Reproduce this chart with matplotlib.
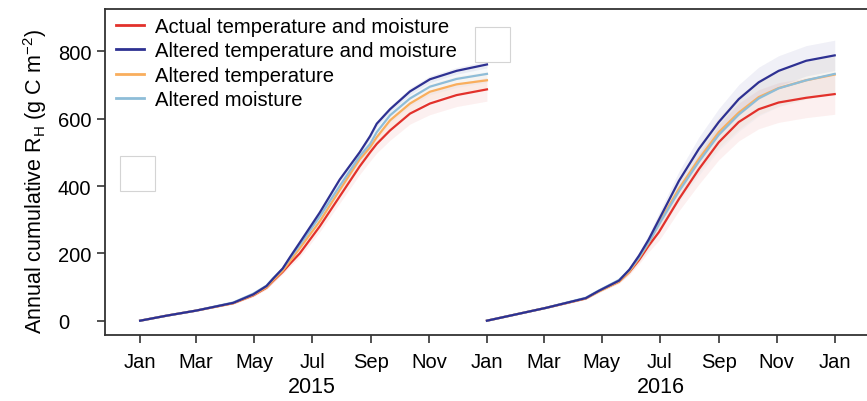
import matplotlib
matplotlib.use("Agg")
import matplotlib.pyplot as plt
from matplotlib.patches import Rectangle
import numpy as np

plt.rcParams['font.family'] = ['Liberation Sans', 'DejaVu Sans']

# days since 1 Jan of each year
days_2015 = [0, 28, 59, 98, 119, 133, 140, 150, 158, 168, 189, 210, 231, 242, 249, 263, 284, 305, 333, 365]
actual_2015 = [0, 15, 30, 52, 75, 98, 118, 145, 170, 200, 280, 369, 458, 500, 525, 565, 615, 645, 670, 687]
alt_tm_2015 = [0, 15, 30, 53, 78, 103, 125, 155, 190, 232, 321, 419, 500, 548, 585, 628, 681, 717, 742, 761]
alt_t_2015 = [0, 15, 30, 52, 76, 99, 120, 148, 178, 215, 295, 388, 479, 515, 545, 595, 645, 680, 702, 714]
alt_m_2015 = [0, 15, 30, 54, 80, 104, 126, 154, 187, 225, 309, 400, 488, 525, 560, 610, 660, 695, 718, 733]
# band half widths
sd_actual_2015 = [0, 1, 2, 3, 4, 5, 6, 7, 9, 12, 16, 20, 24, 26, 27, 29, 31, 33, 34, 35]
sd_tm_2015 = [0, 1, 1, 2, 2, 3, 3, 4, 4, 5, 6, 7, 8, 8, 9, 9, 10, 10, 10, 10]
sd_t_2015 = [0, 1, 2, 3, 4, 5, 6, 7, 8, 10, 13, 16, 19, 20, 21, 22, 23, 24, 25, 25]
sd_m_2015 = [0, 1, 2, 3, 4, 5, 6, 7, 8, 10, 13, 16, 19, 20, 21, 22, 23, 24, 25, 25]

days_2016 = [0, 62, 104, 118, 139, 150, 160, 170, 181, 202, 223, 244, 265, 286, 307, 336, 366]
actual_2016 = [0, 38, 66, 88, 116, 145, 180, 222, 263, 361, 450, 530, 590, 628, 648, 662, 673]
alt_tm_2016 = [0, 38, 67, 89, 119, 152, 193, 240, 300, 415, 510, 590, 658, 708, 742, 772, 788]
alt_t_2016 = [0, 38, 66, 87, 116, 146, 185, 230, 290, 392, 480, 560, 618, 664, 691, 714, 731]
alt_m_2016 = [0, 38, 68, 90, 121, 151, 188, 232, 286, 384, 472, 552, 612, 660, 690, 714, 733]
sd_actual_2016 = [0, 2, 3, 4, 5, 8, 12, 18, 25, 35, 45, 52, 56, 58, 59, 59, 60]
sd_tm_2016 = [0, 2, 3, 4, 5, 7, 10, 15, 20, 28, 35, 40, 43, 45, 45, 45, 45]
sd_t_2016 = [0, 2, 3, 4, 5, 8, 12, 18, 24, 32, 40, 46, 50, 52, 54, 55, 55]
sd_m_2016 = [0, 2, 3, 4, 5, 8, 12, 18, 24, 32, 40, 46, 50, 52, 54, 55, 55]

labels = ["Actual temperature and moisture", "Altered temperature and moisture",
          "Altered temperature", "Altered moisture"]
colors = ["#E2312B", "#2E3192", "#F9AE5D", "#8EBDD8"]

tick_days = [0, 59, 120, 181, 243, 304, 365, 425, 486, 547, 609, 670, 731]
tick_labels = ["Jan", "Mar", "May", "Jul", "Sep", "Nov", "Jan",
               "Mar", "May", "Jul", "Sep", "Nov", "Jan"]

fig = plt.figure(figsize=(8.67, 4.02), dpi=100)
W, H = 867, 402
ax = fig.add_axes([105 / W, (H - 336) / H, 1 - 105 / W, (336 - 9.7) / H])

series_2015 = [(actual_2015, sd_actual_2015), (alt_tm_2015, sd_tm_2015),
               (alt_t_2015, sd_t_2015), (alt_m_2015, sd_m_2015)]
series_2016 = [(actual_2016, sd_actual_2016), (alt_tm_2016, sd_tm_2016),
               (alt_t_2016, sd_t_2016), (alt_m_2016, sd_m_2016)]

for offset, days, series in [(0, days_2015, series_2015), (365, days_2016, series_2016)]:
    x = np.array(days) + offset
    for (vals, sd), c in zip(series, colors):
        v = np.array(vals)
        s = np.array(sd)
        ax.fill_between(x, v - s, v + s, color=c, alpha=0.07, lw=0)
    # red, orange, light blue, then navy on top
    for i in [0, 2, 3, 1]:
        v = np.array(series[i][0])
        ax.plot(x, v, color=colors[i], lw=1.6,
                label=labels[i] if offset == 0 else None, zorder=3)

ax.set_xlim(-37, 765)
ax.set_ylim(-42.5, 926.6)
ax.set_xticks(tick_days)
ax.set_xticklabels(tick_labels)
ax.set_yticks([0, 200, 400, 600, 800])
ax.tick_params(axis='both', direction='out', length=6, width=1.2, colors='#333333',
               labelcolor='black', labelsize=14.5)
ax.tick_params(axis='x', pad=6)
ax.tick_params(axis='y', pad=28)
for t in ax.get_yticklabels():
    t.set_ha('left')
for side in ['left', 'bottom', 'top']:
    ax.spines[side].set_linewidth(1.3)
    ax.spines[side].set_color('#333333')
ax.spines['right'].set_visible(False)

handles, labs = ax.get_legend_handles_labels()
order = [labs.index(l) for l in labels]
leg = ax.legend([handles[i] for i in order], [labs[i] for i in order],
                loc='upper left', bbox_to_anchor=(116 / W, 1 - 18 / H),
                bbox_transform=fig.transFigure, frameon=False, fontsize=14.6,
                handlelength=1.4, handletextpad=0.5, labelspacing=0.27,
                borderpad=0, borderaxespad=0)
for line in leg.get_lines():
    line.set_linewidth(2)

fig.text(35 / W, 1 - 181 / H, "Annual cumulative R$_\\mathregular{H}$ (g C m$^\\mathregular{-2}$)",
         rotation=90, ha='center', va='center', fontsize=15.5)
fig.text(312 / W, 1 - 388 / H, "2015", ha='center', va='center', fontsize=15.5)
fig.text(661 / W, 1 - 388 / H, "2016", ha='center', va='center', fontsize=15.5)

# two blank boxes present in the figure
for (x0, y0) in [(120, 157), (475, 28)]:
    fig.patches.append(Rectangle((x0 / W, 1 - (y0 + 35) / H), 35 / W, 35 / H,
                                 transform=fig.transFigure, fc='white', ec='#d4d4d4',
                                 lw=0.8, zorder=10))

fig.savefig("out.png", dpi=100)
